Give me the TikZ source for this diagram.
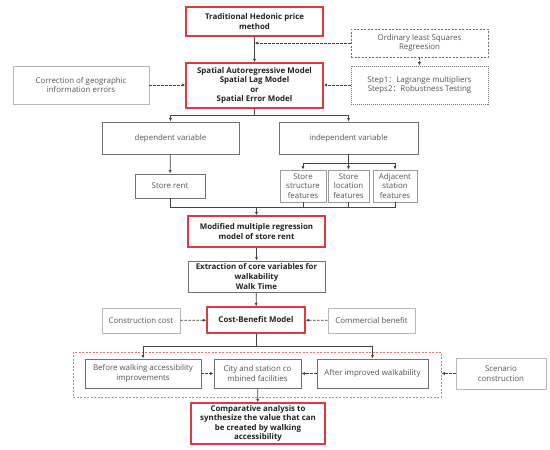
\documentclass[tikz,border=0pt]{standalone}
\usepackage{fontspec}
\setmainfont{Open Sans}
\newfontfamily\cjk{Noto Sans CJK SC}
\usetikzlibrary{arrows.meta,calc}
\definecolor{redb}{HTML}{E0383C}
\definecolor{txt}{HTML}{555555}
\definecolor{btxt}{HTML}{222222}
\definecolor{lgray}{HTML}{B8B8B8}
\definecolor{dgray}{HTML}{707070}
\definecolor{conn}{HTML}{444444}
\begin{document}
\begin{tikzpicture}[x=1pt,y=-1pt,
  base/.style={draw,rectangle,inner sep=1pt,align=center,font=\fontsize{7.9}{9.8}\selectfont},
  redbox/.style={base,draw=redb,line width=1.1pt,text=btxt,font=\fontsize{7.9}{9.6}\selectfont\bfseries},
  blkbox/.style={base,draw=dgray,line width=0.9pt,text=btxt,font=\fontsize{7.9}{9.6}\selectfont\bfseries},
  graybox/.style={base,draw=dgray,line width=0.8pt,text=txt},
  lightbox/.style={base,draw=lgray,line width=0.7pt,text=txt},
  dashbox/.style={base,draw=dgray,line width=0.7pt,dashed,dash pattern=on 2pt off 1.5pt,text=txt},
  dotbox/.style={base,draw=dgray,line width=0.8pt,dash pattern=on 1pt off 1pt,text=txt},
  conline/.style={draw=conn,line width=0.7pt},
  arr/.style={conline,-{Latex[length=3.5pt,width=3pt]}},
  darr/.style={arr,dash pattern=on 2.5pt off 1.5pt},
]
\useasboundingbox (0,0) rectangle (550,450);
\fill[white] (0,0) rectangle (550,450);

\node[redbox,minimum width=137pt,minimum height=29pt] (hed) at (254.5,21.5) {Traditional Hedonic price\\method};
\node[redbox,minimum width=137pt,minimum height=45pt] (sar) at (254.5,85.5) {Spatial Autoregressive Model\\Spatial Lag Model\\or\\Spatial Error Model};
\node[lightbox,minimum width=136pt,minimum height=38pt] (corr) at (81,85) {Correction of geographic\\information errors};
\node[dashbox,minimum width=137pt,minimum height=28pt] (ols) at (419.5,43) {Ordinary least Squares\\Regreesion};
\node[dotbox,minimum width=137pt,minimum height=38pt] (step) at (419.5,85) {Step1{\cjk ：}Lagrange multipliers\\Steps2{\cjk ：}Robustness Testing};

\node[graybox,minimum width=137pt,minimum height=32pt] (dep) at (170.5,138) {dependent variable};
\node[graybox,minimum width=139pt,minimum height=32pt] (ind) at (348.5,138) {independent variable};
\node[graybox,minimum width=70pt,minimum height=24pt] (rent) at (170,186) {Store rent};
\node[lightbox,draw=dgray!70,minimum width=46pt,minimum height=32pt,inner sep=0pt] (f1) at (303,186) {Store\\structure\\features};
\node[lightbox,draw=dgray!70,minimum width=41pt,minimum height=32pt,inner sep=0pt] (f2) at (348.5,186) {Store\\location\\features};
\node[lightbox,draw=dgray!70,minimum width=44pt,minimum height=32pt,inner sep=0pt] (f3) at (395,186) {Adjacent\\station\\features};

\node[redbox,minimum width=137pt,minimum height=31pt] (mod) at (256.5,231.5) {Modified multiple regression\\model of store rent};
\node[blkbox,minimum width=137pt,minimum height=31pt] (ext) at (256.5,276.5) {Extraction of core variables for\\walkability\\Walk Time};
\node[redbox,minimum width=98pt,minimum height=26pt] (cb) at (256,320) {Cost-Benefit Model};
\node[lightbox,minimum width=78pt,minimum height=25pt] (cc) at (141,320.5) {Construction cost};
\node[lightbox,minimum width=87pt,minimum height=25pt] (comb) at (371.5,320.5) {Commercial benefit};

\node[draw=redb!70,dash pattern=on 2pt off 1.5pt,line width=0.7pt,rectangle,minimum width=368pt,minimum height=45pt,inner sep=0pt] (grp) at (257,374.5) {};
\node[graybox,minimum width=116pt,minimum height=29pt] (before) at (143,373.5) {Before walking accessibility\\improvements};
\node[graybox,minimum width=87pt,minimum height=29pt] (city) at (257.5,373.5) {City and station co\\mbined facilities};
\node[graybox,minimum width=111pt,minimum height=29pt] (after) at (372.5,373.5) {After improved walkability};
\node[lightbox,minimum width=90pt,minimum height=31pt] (scen) at (501,373.5) {Scenario\\construction};
\node[redbox,minimum width=134pt,minimum height=41pt] (comp) at (258,423.5) {Comparative analysis to\\synthesize the value that can\\be created by walking\\accessibility};

% connectors
\draw[arr] (hed) -- (sar);
\coordinate (j1) at (hed.south |- ols.west);
\draw[darr] (ols.west) -- (j1);
\draw[darr] (ols) -- (step);
\draw[darr] (step.west) -- (sar.east |- step.west);
\draw[darr] (corr.east) -- (sar.west |- corr.east);

\coordinate (s1) at ($(sar.south)+(0,7)$);
\draw[arr] (sar.south) -- (s1) -| (dep.north);
\draw[arr] (s1) -| (ind.north);
\draw[arr] (dep) -- (rent);
\coordinate (i1) at ($(ind.south)+(0,9)$);
\draw[conline] (ind.south) -- (i1);
\draw[arr] (i1) -| (f1.north);
\draw[arr] (i1) -- (f2.north);
\draw[arr] (i1) -| (f3.north);

\coordinate (m1) at ($(mod.north)+(0,-8)$);
\draw[arr] (rent.south) |- (m1) -- (mod.north);
\draw[conline] (f1.south) -- (f1.south |- m1);
\draw[conline] (f2.south) -- (f2.south |- m1);
\draw[conline] (f3.south) |- (m1);

\draw[arr] (mod) -- (ext);
\draw[arr] (ext) -- (cb);
\draw[darr] (cc) -- (cb);
\draw[darr] (comb) -- (cb);

\coordinate (c1) at ($(cb.south)+(0,13)$);
\draw[conline] (cb.south) -- (c1);
\draw[arr] (c1) -| (before.north);
\draw[arr] (c1) -| (after.north);
\draw[darr] (before) -- (city);
\draw[darr] (after) -- (city);
\draw[darr] (scen.west) -- (grp.east |- scen.west);
\draw[arr] (city) -- (comp);
\end{tikzpicture}
\end{document}
